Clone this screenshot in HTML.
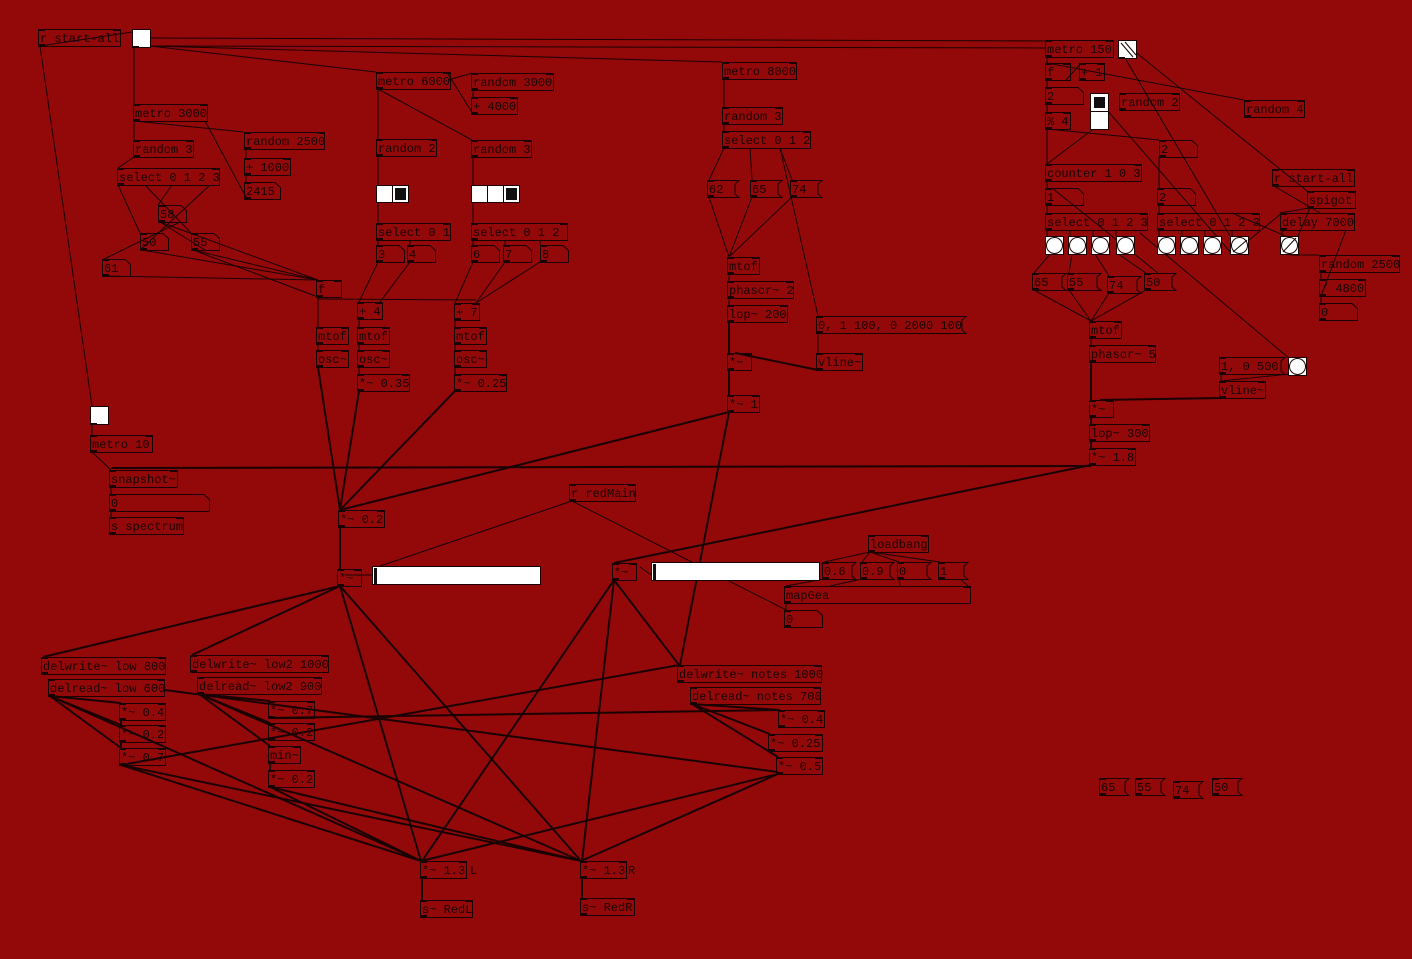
<!DOCTYPE html>
<html><head><meta charset="utf-8"><style>
html,body{margin:0;padding:0;background:#930909;width:1412px;height:959px;overflow:hidden}
svg{display:block}
text{font-family:"Liberation Mono","DejaVu Sans Mono",monospace;font-size:12px;fill:#1a0202}
</style></head><body>
<svg id="s" width="1412" height="959" xmlns="http://www.w3.org/2000/svg"></svg>
<script>
var S=document.getElementById('s'),h='';
var C='#1a0202';
function L(a,b,c,d,w){h+='<line x1="'+a+'" y1="'+b+'" x2="'+c+'" y2="'+d+'" stroke="'+C+'" stroke-width="'+(w||1)+'"/>';}
function io(x,y,w,hh){h+='<rect x="'+x+'" y="'+y+'" width="7" height="2" fill="'+C+'"/><rect x="'+(x+w-7)+'" y="'+y+'" width="7" height="2" fill="'+C+'"/>';h+='<rect x="'+x+'" y="'+(y+hh-2)+'" width="7" height="2" fill="'+C+'"/>';}
function O(x,y,w,t){var hh=17;h+='<rect x="'+(x+.5)+'" y="'+(y+.5)+'" width="'+w+'" height="'+hh+'" fill="none" stroke="'+C+'"/>';io(x,y,w,hh);h+='<text x="'+(x+2)+'" y="'+(y+13)+'">'+t+'</text>';}
function N(x,y,w,t){var hh=17;h+='<path d="M'+(x+.5)+' '+(y+.5)+'H'+(x+w-5)+'L'+(x+w+.5)+' '+(y+5.5)+'V'+(y+hh+.5)+'H'+(x+.5)+'Z" fill="none" stroke="'+C+'"/>';h+='<rect x="'+x+'" y="'+(y+hh-2)+'" width="7" height="2" fill="'+C+'"/><rect x="'+x+'" y="'+y+'" width="7" height="2" fill="'+C+'"/>';h+='<text x="'+(x+2)+'" y="'+(y+13)+'">'+t+'</text>';}
function M(x,y,w,t){var hh=17;h+='<path d="M'+(x+.5)+' '+(y+.5)+'H'+(x+w+4)+'L'+(x+w)+' '+(y+4)+'V'+(y+hh-3)+'L'+(x+w+4)+' '+(y+hh+.5)+'H'+(x+.5)+'Z" fill="none" stroke="'+C+'"/>';h+='<rect x="'+x+'" y="'+(y+hh-2)+'" width="7" height="2" fill="'+C+'"/><rect x="'+x+'" y="'+y+'" width="7" height="2" fill="'+C+'"/>';h+='<text x="'+(x+2)+'" y="'+(y+13)+'">'+t+'</text>';}
function T(x,y,on){h+='<rect x="'+(x+.5)+'" y="'+(y+.5)+'" width="18" height="18" fill="#fff" stroke="'+C+'"/>';if(on){L(x+2,y+2,x+17,y+17);L(x+17,y+2,x+2,y+17);}h+='<rect x="'+x+'" y="'+(y+17)+'" width="7" height="2" fill="'+C+'"/>';}
function B(x,y){h+='<rect x="'+(x+.5)+'" y="'+(y+.5)+'" width="18" height="18" fill="#fff" stroke="'+C+'"/><circle cx="'+(x+9.5)+'" cy="'+(y+9.5)+'" r="8" fill="#fff" stroke="'+C+'"/>';}
function R(x,y,n,sel){for(var i=0;i<n;i++){h+='<rect x="'+(x+i*16+.5)+'" y="'+(y+.5)+'" width="16" height="17" fill="#fff" stroke="'+C+'"/>';if(i==sel)h+='<rect x="'+(x+i*16+3)+'" y="'+(y+3)+'" width="11" height="12" fill="#111"/>';}}
function HS(x,y,w){h+='<rect x="'+(x+.5)+'" y="'+(y+.5)+'" width="'+w+'" height="18" fill="#fff" stroke="'+C+'"/><rect x="'+(x+2)+'" y="'+(y+2)+'" width="3" height="16" fill="#111"/>';}
// connections (thin)
var th=[[40,46,92,406],[40,46,132,32],[150,38,1045,41],[150,46,376,72],[150,46,722,62],[134,46,134,104],[150,46,1045,48],
[134,121,134,140],[134,121,244,132],[205,121,247,199],[134,157,118,168],[246,149,246,158],[246,175,246,182],
[118,185,140,233],[145,185,191,233],[172,185,158,205],[210,185,140,250],[160,222,205,250],[180,222,104,259],
[142,250,318,280],[193,250,318,280],[104,276,318,280],[160,222,318,280],[193,250,318,297],
[378,89,378,139],[378,89,472,140],[448,80,472,73],[473,90,473,97],[473,114,448,74],
[378,156,378,185],[378,203,378,223],[473,157,473,185],[473,203,473,223],[378,240,378,245],[410,240,410,245],
[473,240,473,245],[505,240,505,245],[540,240,540,245],[378,262,359,302],[410,262,380,302],[473,262,455,303],[505,262,476,303],[540,262,476,303],
[318,297,318,327],[318,299,476,300],[359,319,359,327],[455,320,455,327],[318,344,318,350],[359,344,359,350],[359,367,359,374],[455,344,455,350],[455,367,455,374],
[724,79,724,107],[724,124,724,131],[724,148,709,180],[750,148,752,180],[780,148,792,180],[780,148,818,316],[709,197,729,257],[752,197,729,257],[792,197,729,257],
[729,274,729,281],[729,298,729,305],[818,333,818,353],[92,423,92,435],[92,452,111,470],[111,487,111,494],[111,511,111,517],
[572,501,380,566],[572,501,790,612],[640,567,651,575],[870,552,824,562],[870,552,862,562],[870,552,899,562],[870,552,940,562],[824,579,786,586],[862,579,830,586],[899,579,900,586],[960,579,968,586],[786,603,786,610],[345,575,372,575],
[1047,57,1047,63],[1047,80,1047,87],[1081,63,1066,80],[1047,63,1244,100],[1047,104,1047,112],[1047,129,1047,164],[1047,129,1159,140],[1092,130,1047,164],
[1100,102,1232,254],[1118,46,1230,236],[1133,50,1307,191],[1159,157,1159,188],[1047,181,1047,188],[1047,205,1047,213],[1159,205,1159,213],
[1047,230,1047,236],[1070,230,1070,236],[1093,230,1093,236],[1116,230,1116,236],[1159,230,1159,236],[1182,230,1182,236],[1205,230,1205,236],[1232,230,1232,236],
[1052,188,1158,273],[1140,233,1296,364],[1274,186,1320,213],[1309,208,1280,213],[1282,230,1282,236],[1232,254,1282,213],[1290,255,1310,208],[1290,255,1319,255],[1346,230,1321,296],[1321,272,1321,279],[1321,296,1321,303],
[1050,254,1034,273],[1072,254,1069,273],[1095,254,1109,276],[1118,254,1146,273],[1034,290,1091,321],[1069,290,1091,321],[1109,293,1091,321],[1146,290,1091,321],
[1091,338,1091,345],[1221,374,1221,381],[1290,374,1221,381],[1232,213,1290,238]];
th.forEach(function(a){L(a[0],a[1],a[2],a[3],1);});
// signal (thick)
var tk=[[318,367,340,510],[359,391,340,510],[455,391,340,510],[729,322,729,353],[735,353,818,370],[729,370,729,395],[729,412,340,510],[729,412,680,665],
[111,468,1091,466],[1091,362,1091,400],[1091,417,1091,424],[1091,441,1091,448],[1091,465,614,563],[1221,398,1100,400],
[340,527,340,569],[340,586,43,657],[340,586,192,655],[340,586,421,861],[340,586,581,861],[614,580,679,665],[614,580,422,861],[614,580,582,861],
[50,696,121,703],[50,696,121,725],[50,696,121,748],[121,720,121,725],[121,742,121,748],[121,765,421,861],[121,765,581,861],[50,696,421,861],[121,765,679,665],
[199,694,270,701],[199,694,270,723],[199,694,270,746],[270,763,270,770],[270,787,421,861],[270,787,581,861],[165,690,778,772],[199,694,581,861],[270,718,780,710],
[692,704,780,710],[692,704,770,734],[692,704,778,757],[778,774,421,861],[778,774,581,861],[422,878,422,900],[582,878,582,898]];
tk.forEach(function(a){L(a[0],a[1],a[2],a[3],2);});
// objects
O(38,29,82,'r start-all');T(132,29,0);
O(133,104,74,'metro 3000');O(244,132,80,'random 2500');O(133,140,60,'random 3');O(244,158,46,'+ 1000');
O(117,168,102,'select 0 1 2 3');N(244,182,36,'2415');N(158,205,28,'58');N(140,233,28,'50');N(191,233,28,'55');N(102,259,28,'61');
O(316,280,25,'f');O(376,72,74,'metro 6000');O(471,73,82,'random 3000');O(471,97,46,'+ 4000');
O(376,139,60,'random 2');O(471,140,60,'random 3');R(376,185,2,1);R(471,185,3,2);
O(376,223,74,'select 0 1');N(376,245,28,'3');N(407,245,28,'4');O(471,223,96,'select 0 1 2');N(471,245,28,'6');N(503,245,28,'7');N(540,245,28,'8');
O(357,302,25,'+ 4');O(454,303,25,'+ 7');
O(316,327,32,'mtof');O(316,350,32,'osc~');O(357,327,32,'mtof');O(357,350,32,'osc~');O(357,374,52,'*~ 0.35');
O(454,327,32,'mtof');O(454,350,32,'osc~');O(454,374,52,'*~ 0.25');
O(722,62,74,'metro 8000');O(722,107,60,'random 3');O(722,131,88,'select 0 1 2');
M(707,180,28,'62');M(750,180,28,'65');M(790,180,28,'74');
O(727,257,32,'mtof');O(727,281,66,'phasor~ 2');O(727,305,60,'lop~ 200');M(816,316,146,'0, 1 100, 0 2000 100');
O(816,353,46,'vline~');O(727,353,24,'*~');O(727,395,32,'*~ 1');
T(90,406,0);O(90,435,62,'metro 10');O(109,470,68,'snapshot~');N(109,494,100,'0');O(109,517,74,'s spectrum');
O(338,510,46,'*~ 0.2');O(569,484,66,'r redMain');O(337,569,24,'*~');HS(372,566,168);
O(612,563,24,'*~');HS(651,562,168);O(868,535,60,'loadbang');
M(822,562,30,'0.6');M(860,562,30,'0.9');M(897,562,30,'0');M(938,562,26,'1');
O(784,586,186,'mapGea');N(784,610,38,'0');
O(41,657,124,'delwrite~ low 800');O(48,679,116,'delread~ low 600');O(119,703,46,'*~ 0.4');O(119,725,46,'*~ 0.2');O(119,748,46,'*~ 0.7');
O(190,655,138,'delwrite~ low2 1000');O(197,677,124,'delread~ low2 900');O(268,701,46,'*~ 0.7');O(268,723,46,'*~ 0.2');O(268,746,32,'min~');O(268,770,46,'*~ 0.2');
O(677,665,144,'delwrite~ notes 1000');O(690,687,130,'delread~ notes 700');O(778,710,46,'*~ 0.4');O(768,734,54,'*~ 0.25');O(776,757,46,'*~ 0.5');
O(420,861,46,'*~ 1.3');h+='<text x="470" y="874">L</text>';O(420,900,52,'s~ RedL');
O(580,861,46,'*~ 1.3');h+='<text x="628" y="874">R</text>';O(580,898,54,'s~ RedR');
O(1045,40,68,'metro 150');T(1118,40,0);L(1121,43,1133,57);L(1125,42,1136,55);
O(1045,63,25,'f');O(1079,63,25,'+ 1');N(1045,87,38,'2');O(1045,112,25,'% 4');
h+='<rect x="1090.5" y="93.5" width="18" height="18" fill="#fff" stroke="'+C+'"/><rect x="1094" y="97" width="11" height="11" fill="#111"/><rect x="1090.5" y="111.5" width="18" height="18" fill="#fff" stroke="'+C+'"/>';
O(1119,93,60,'random 2');O(1244,100,60,'random 4');N(1159,140,38,'2');O(1045,164,96,'counter 1 0 3');N(1045,188,38,'1');N(1157,188,38,'2');
O(1045,213,102,'select 0 1 2 3');O(1157,213,102,'select 0 1 2 3');O(1272,169,82,'r start-all');O(1307,191,48,'spigot');O(1280,213,74,'delay 7000');
[1045,1068,1091,1116,1157,1180,1203,1230,1280].forEach(function(x){B(x,236);});
L(1233,252,1247,240);L(1283,252,1296,238);
O(1319,255,80,'random 2500');O(1319,279,46,'/ 4800');N(1319,303,38,'0');
M(1032,273,30,'65');M(1067,273,30,'55');M(1107,276,30,'74');M(1144,273,28,'50');
O(1089,321,32,'mtof');O(1089,345,66,'phasor~ 5');M(1219,357,62,'1, 0 500');B(1288,357);O(1219,381,46,'vline~');
O(1089,400,24,'*~');O(1089,424,60,'lop~ 300');O(1089,448,46,'*~ 1.8');
M(1099,778,26,'65');M(1135,778,26,'55');M(1173,781,26,'74');M(1212,778,26,'50');
S.innerHTML=h;
</script>
</body></html>
